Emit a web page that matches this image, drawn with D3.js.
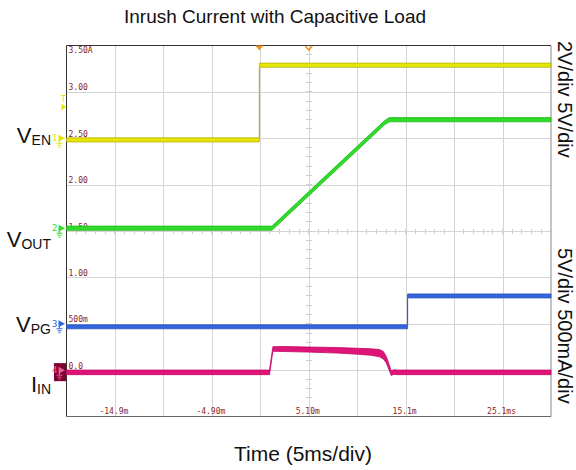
<!DOCTYPE html>
<html>
<head>
<meta charset="utf-8">
<script src="https://cdn.jsdelivr.net/npm/d3@7"></script>
<style>
  body { margin: 0; background: #fff; }
  svg { display: block; }
  .grid line { stroke: #d4d4d4; shape-rendering: crispEdges; }
  .grid .domain { display: none; }
  .scale text { font-family: "DejaVu Sans Mono", monospace; font-size: 8px; fill: #8b2424; }
</style>
</head>
<body>
<script>
// window + plot frame
const w = 576;
const h = 470;
const pLeft = 66.5, pRight = 551, pTop = 45.5, pBottom = 416.5;

// time grid (ms), 5ms/div
const timeDomain = [-19.9, 30.1];
const timeGrid = [-14.9, -9.9, -4.9, 0.1, 5.1, 10.1, 15.1, 20.1, 25.1];
const timeLabels = { "-14.9": "-14.9m", "-4.9": "-4.90m", "5.1": "5.10m", "15.1": "15.1m", "25.1": "25.1ms" };

// screen scale (ch4 units, 500mA/div)
const ampDomain = [-0.5, 3.5];
const ampGrid = [3.5, 3.0, 2.5, 2.0, 1.5, 1.0, 0.5, 0.0];
const ampLabels = ["3.50A", "3.00", "2.50", "2.00", "1.50", "1.00", "500m", "0.0"];

// channel ground (in screen units) and volts per div
const chGround = [2.5, 1.53, 0.5, 0.0];
const chPerDiv = [2, 5, 5, 0.5];
const chColor = ["#e6e600", "#2fdc2a", "#3366dd", "#de1479"];
const chEdge = ["#b8b020", "#22b81e", "#2a55c0", "#c00a65"];

// VEN (ch1)
const venTime = [-19.9, 0.0, 0.0, 30.1];
const venVolts = [-0.07, -0.07, 3.15, 3.15];
const trigLevel = 1.35;

// VOUT (ch2)
const voutTime = [-19.9, 1.3, 12.9, 13.4, 30.1];
const voutVolts = [0, 0, 11.35, 11.7, 11.7];

// VPG (ch3)
const vpgTime = [-19.9, 15.3, 15.3, 30.1];
const vpgVolts = [-0.33, -0.33, 3.0, 3.0];

// IIN (ch4) and its ripple (A p-p on top of trace width)
const iinTime = [-19.9, 1.05, 1.4, 2.5, 5, 8, 10.2, 11.5, 12.4, 12.8, 13.1, 13.4, 13.6, 13.9, 14.2, 30.1];
const iinAmps = [-0.024, -0.024, 0.228, 0.228, 0.222, 0.214, 0.203, 0.195, 0.183, 0.16, 0.113, 0.03, -0.032, -0.02, -0.024, -0.024];
const iinRipple = [0, 0, 0, 0.005, 0.005, 0.01, 0.015, 0.02, 0.03, 0.03, 0.02, 0.01, 0, 0, 0, 0];

const x = d3.scaleLinear().domain(timeDomain).range([pLeft, pRight]);
const y = d3.scaleLinear().domain(ampDomain).range([pBottom, pTop]);

const svg = d3.select("body").append("svg").attr("width", w).attr("height", h);

// grid
svg.append("g")
  .attr("class", "grid")
  .attr("transform", "translate(0," + pBottom + ")")
  .call(d3.axisBottom(x).tickValues(timeGrid).tickSize(-(pBottom - pTop)).tickFormat(""));
svg.append("g")
  .attr("class", "grid")
  .attr("transform", "translate(" + pLeft + ",0)")
  .call(d3.axisLeft(y).tickValues(ampGrid.slice(1)).tickSize(-(pRight - pLeft)).tickFormat(""));

// minor ticks on center lines
const cx = x(5.1), cy = y(1.5);
const minor = svg.append("g").attr("stroke", "#cfcfcf").attr("shape-rendering", "crispEdges");
d3.range(0, 50).forEach(function (i) {
  const px = pLeft + (pRight - pLeft) * i / 50;
  minor.append("line").attr("x1", px).attr("x2", px).attr("y1", cy - 2.5).attr("y2", cy + 2.5);
});
d3.range(0, 40).forEach(function (i) {
  const py = pTop + (pBottom - pTop) * i / 40;
  minor.append("line").attr("x1", cx - 3).attr("x2", cx + 3).attr("y1", py).attr("y2", py);
});

// frame
svg.append("line").attr("x1", pLeft).attr("x2", pRight).attr("y1", pTop).attr("y2", pTop).attr("stroke", "#333");
svg.append("line").attr("x1", pLeft).attr("x2", pLeft).attr("y1", pTop).attr("y2", pBottom).attr("stroke", "#333");
svg.append("line").attr("x1", pRight).attr("x2", pRight).attr("y1", pTop).attr("y2", pBottom).attr("stroke", "#888");
svg.append("line").attr("x1", pLeft).attr("x2", pRight).attr("y1", pBottom).attr("y2", pBottom).attr("stroke", "#666");

// scale labels
const scale = svg.append("g").attr("class", "scale");
scale.selectAll("text.amp")
  .data(ampGrid)
  .enter()
  .append("text")
  .attr("class", "amp")
  .attr("x", pLeft + 2)
  .attr("y", function (d, i) { return i === 0 ? y(d) + 7 : y(d) - 1.5; })
  .text(function (d, i) { return ampLabels[i]; });
scale.selectAll("text.time")
  .data(timeGrid.filter(function (d) { return timeLabels[String(d)]; }))
  .enter()
  .append("text")
  .attr("class", "time")
  .attr("x", function (d) { return x(d) - 1; })
  .attr("y", pBottom - 3)
  .attr("text-anchor", "middle")
  .text(function (d) { return timeLabels[String(d)]; });

// traces
function toScreen(ch, v) {
  return chGround[ch] + v / chPerDiv[ch] * 0.5;
}
function drawTrace(ch, times, vals, ripple, half) {
  const pts = times.map(function (t, i) {
    return { t: t, v: toScreen(ch, vals[i]), r: ripple ? ripple[i] : 0 };
  });
  const area = d3.area()
    .x(function (d) { return x(d.t); })
    .y0(function (d) { return y(d.v) - half - (y(0) - y(d.r)) / 2; })
    .y1(function (d) { return y(d.v) + half + (y(0) - y(d.r)) / 2; });
  svg.append("path")
    .attr("d", area(pts))
    .attr("fill", chColor[ch])
    .attr("stroke", chEdge[ch])
    .attr("stroke-width", 0.8);
}
drawTrace(0, venTime, venVolts, null, 2.1);
drawTrace(1, voutTime, voutVolts, null, 2.1);
drawTrace(2, vpgTime, vpgVolts, null, 2.0);
drawTrace(3, iinTime, iinAmps, iinRipple, 2.3);

// ground markers
[0, 1, 2, 3].forEach(function (ch) {
  const gy = y(chGround[ch]);
  const g = svg.append("g").attr("transform", "translate(" + pLeft + "," + gy + ")");
  let c = chColor[ch];
  if (ch === 3) {
    g.append("rect").attr("x", -12.5).attr("y", -7).attr("width", 12).attr("height", 18).attr("fill", "#7d0030");
    c = "#e8609a";
  }
  g.append("text").attr("x", -9).attr("y", 3).attr("text-anchor", "end")
    .attr("font-family", "DejaVu Sans Mono, monospace").attr("font-size", 9).attr("fill", c)
    .text(ch + 1);
  g.append("path").attr("d", "M-8,-3.5L-1.5,0L-8,3.5Z").attr("fill", c);
  g.append("path").attr("d", "M-7,0V5M-10,5H-4M-9,7H-5M-8,9H-6").attr("stroke", c).attr("stroke-width", 1).attr("fill", "none");
});

// trigger level marker
const ty = y(toScreen(0, trigLevel));
svg.append("path").attr("d", "M" + (pLeft - 5) + "," + (ty - 3.5) + "L" + (pLeft - 0.5) + "," + ty + "L" + (pLeft - 5) + "," + (ty + 3.5) + "Z").attr("fill", chColor[0]);
svg.append("text").attr("x", pLeft - 3).attr("y", ty - 5).attr("text-anchor", "middle")
  .attr("font-family", "DejaVu Sans Mono, monospace").attr("font-size", 9).attr("fill", chColor[0]).text("T");

// trigger position markers
svg.append("path").attr("d", "M" + (x(0) - 4) + "," + pTop + "L" + (x(0) + 4) + "," + pTop + "L" + x(0) + "," + (pTop + 5) + "Z").attr("fill", "#f5901a");
svg.append("path").attr("d", "M" + (x(5.1) - 3.5) + "," + (pTop + 0.5) + "L" + x(5.1) + "," + (pTop + 4.5) + "L" + (x(5.1) + 3.5) + "," + (pTop + 0.5)).attr("fill", "none").attr("stroke", "#f5901a").attr("stroke-width", 1.5);

// left channel names
const names = [["V", "EN", 143], ["V", "OUT", 247], ["V", "PG", 332], ["I", "IN", 392]];
names.forEach(function (n) {
  const t = svg.append("text").attr("x", 51).attr("y", n[2]).attr("text-anchor", "end")
    .attr("font-family", "Liberation Sans, Arial, sans-serif").attr("fill", "#111");
  t.append("tspan").attr("font-size", 22).text(n[0]);
  t.append("tspan").attr("font-size", 14).attr("dy", 1.5).text(n[1]);
});

// right scale notes
svg.append("text").attr("transform", "translate(558,41) rotate(90)")
  .attr("font-family", "Liberation Sans, Arial, sans-serif").attr("font-size", 20).attr("fill", "#111")
  .text("2V/div 5V/div");
svg.append("text").attr("transform", "translate(558,248) rotate(90)")
  .attr("font-family", "Liberation Sans, Arial, sans-serif").attr("font-size", 20).attr("fill", "#111")
  .text("5V/div 500mA/div");

// titles
svg.append("text").attr("x", 275).attr("y", 23).attr("text-anchor", "middle")
  .attr("font-family", "Liberation Sans, Arial, sans-serif").attr("font-size", 19).attr("fill", "#111")
  .text("Inrush Current with Capacitive Load");
svg.append("text").attr("x", 303).attr("y", 461).attr("text-anchor", "middle")
  .attr("font-family", "Liberation Sans, Arial, sans-serif").attr("font-size", 21).attr("fill", "#111")
  .text("Time (5ms/div)");
</script>
</body>
</html>
